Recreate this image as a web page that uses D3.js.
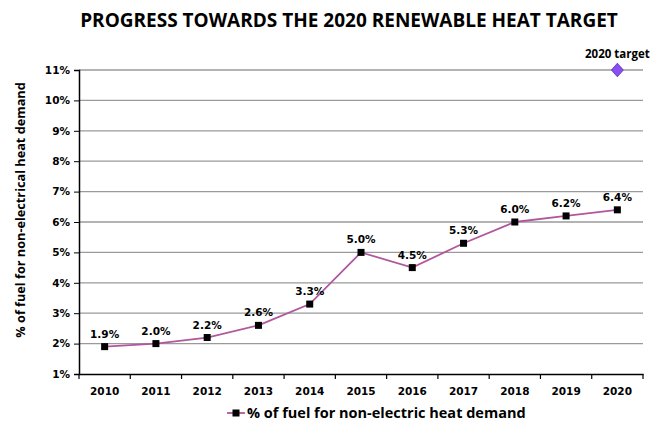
<!DOCTYPE html>
<html>
<head>
<meta charset="utf-8">
<script src="https://cdn.jsdelivr.net/npm/d3@7"></script>
<style>
body { margin: 0; background: #fff; }
</style>
</head>
<body>
<script>
var years = ["2010", "2011", "2012", "2013", "2014", "2015", "2016", "2017", "2018", "2019", "2020"];
var share = [1.9, 2.0, 2.2, 2.6, 3.3, 5.0, 4.5, 5.3, 6.0, 6.2, 6.4];
var yTicks = [1, 2, 3, 4, 5, 6, 7, 8, 9, 10, 11];
var targetYear = "2020";
var targetValue = 11;

var width = 653, height = 425;
var plotLeft = 79, plotRight = 643, plotTop = 70, plotBottom = 374;

var svg = d3.select("body").append("svg")
    .attr("width", width)
    .attr("height", height);

var x = d3.scaleBand().domain(years).range([plotLeft, plotRight]);
var y = d3.scaleLinear().domain([1, 11]).range([plotBottom, plotTop]);

// title
svg.append("text")
    .attr("x", 349).attr("y", 27)
    .attr("text-anchor", "middle")
    .style("font-family", "Open Sans, sans-serif")
    .style("font-weight", "bold")
    .style("font-size", "19px")
    .text("PROGRESS TOWARDS THE 2020 RENEWABLE HEAT TARGET");

// gridlines
svg.append("g").selectAll("line")
    .data(yTicks.slice(1))
    .enter().append("line")
    .attr("x1", plotLeft).attr("x2", plotRight)
    .attr("y1", function(d){ return y(d); })
    .attr("y2", function(d){ return y(d); })
    .attr("stroke", "#9a9a9a")
    .attr("stroke-width", 1.3);

var yAxis = d3.axisLeft(y)
    .tickValues(yTicks)
    .tickSize(5)
    .tickFormat(function(d){ return d + "%"; });

var gy = svg.append("g")
    .attr("transform", "translate(" + plotLeft + ",0)")
    .call(yAxis);
gy.select(".domain").attr("stroke", "#000").attr("stroke-width", 1.5);
gy.selectAll("text")
    .style("font-family", "DejaVu Sans, Verdana, sans-serif")
    .style("font-weight", "bold")
    .style("font-size", "10.5px")
    .attr("x", -9);

var xAxis = d3.axisBottom(x).tickSize(0).tickSizeOuter(0);
var gx = svg.append("g")
    .attr("transform", "translate(0," + plotBottom + ")")
    .call(xAxis);
gx.select(".domain").attr("stroke", "#000").attr("stroke-width", 1.5);
gx.selectAll("text")
    .attr("y", 14)
    .style("font-family", "DejaVu Sans, Verdana, sans-serif")
    .style("font-weight", "bold")
    .style("font-size", "10.5px");

// tick marks between categories
gx.selectAll(".sep")
    .data(years.concat(["end"]))
    .enter().append("line")
    .attr("x1", function(d, i){ return plotLeft + i * x.step(); })
    .attr("x2", function(d, i){ return plotLeft + i * x.step(); })
    .attr("y1", 0).attr("y2", 5)
    .attr("stroke", "#000").attr("stroke-width", 1.2);

var cx = function(d, i){ return x(years[i]) + x.bandwidth() / 2; };

var line = d3.line()
    .x(cx)
    .y(function(d){ return y(d); });

svg.append("path")
    .datum(share)
    .attr("d", line)
    .attr("fill", "none")
    .attr("stroke", "#b0579e")
    .attr("stroke-width", 1.8);

svg.append("g").selectAll("rect")
    .data(share)
    .enter().append("rect")
    .attr("x", function(d, i){ return cx(d, i) - 3.5; })
    .attr("y", function(d){ return y(d) - 3.5; })
    .attr("width", 7).attr("height", 7)
    .attr("fill", "#000");

svg.append("g").selectAll("text")
    .data(share)
    .enter().append("text")
    .attr("x", cx)
    .attr("y", function(d){ return y(d) - 9; })
    .attr("text-anchor", "middle")
    .style("font-family", "DejaVu Sans, Verdana, sans-serif")
    .style("font-weight", "bold")
    .style("font-size", "10.5px")
    .text(function(d){ return d.toFixed(1) + "%"; });

// target marker
var tx = x(targetYear) + x.bandwidth() / 2;
var ty = y(targetValue);
svg.append("path")
    .attr("d", d3.symbol().type(d3.symbolDiamond).size(70)())
    .attr("transform", "translate(" + tx + "," + ty + ") scale(1.3,0.85)")
    .attr("fill", "#8a4ff0")
    .attr("stroke", "#6a3bd0")
    .attr("stroke-width", 0.8);
svg.append("text")
    .attr("x", tx).attr("y", ty - 12)
    .attr("text-anchor", "middle")
    .style("font-family", "Open Sans, sans-serif")
    .style("font-weight", "bold")
    .style("font-size", "11.5px")
    .text("2020 target");

// y axis title
svg.append("text")
    .attr("transform", "translate(25,210) rotate(-90)")
    .attr("text-anchor", "middle")
    .style("font-family", "Open Sans, sans-serif")
    .style("font-weight", "bold")
    .style("font-size", "12.7px")
    .text("% of fuel for non-electrical heat demand");

// legend
var lg = svg.append("g").attr("transform", "translate(227,418)");
lg.append("line")
    .attr("x1", 0).attr("x2", 18).attr("y1", -5).attr("y2", -5)
    .attr("stroke", "#b0579e").attr("stroke-width", 1.8);
lg.append("rect")
    .attr("x", 5.5).attr("y", -8.5).attr("width", 7).attr("height", 7)
    .attr("fill", "#000");
lg.append("text")
    .attr("x", 20).attr("y", 0)
    .style("font-family", "Open Sans, sans-serif")
    .style("font-weight", "bold")
    .style("font-size", "14.5px")
    .text("% of fuel for non-electric heat demand");
</script>
</body>
</html>
